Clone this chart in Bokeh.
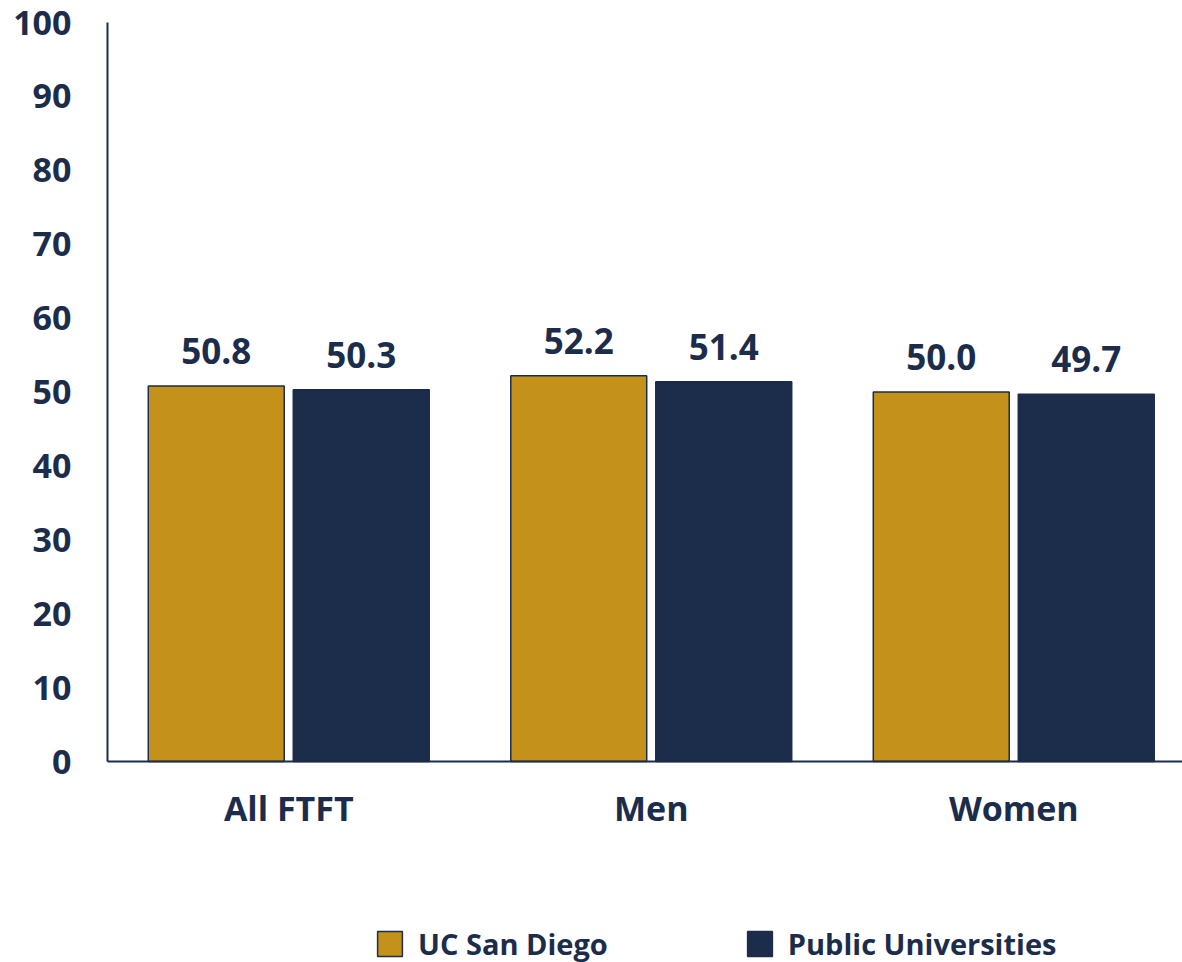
from bokeh.plotting import figure
from bokeh.models import ColumnDataSource, FixedTicker, Legend, LegendItem, Range1d
from bokeh.core.properties import value
from bokeh.transform import dodge
from bokeh.embed import file_html
from bokeh.resources import INLINE

categories = ["All FTFT", "Men", "Women"]
series_names = ["UC San Diego", "Public Universities"]
ucsd = [50.8, 52.2, 50.0]
public = [50.3, 51.4, 49.7]
y_ticks = [0, 10, 20, 30, 40, 50, 60, 70, 80, 90, 100]

GOLD = "#C4921A"
NAVY = "#1B2D4B"
FONT = "Open Sans"

W, H = 1182, 962
AX_X, AX_Y0, AX_Y100 = 107, 761, 22          # pixel positions of axes
PX_X = 362.5                                   # pixels per category
PX_Y = (AX_Y0 - AX_Y100) / 100.0               # pixels per unit

x_start = -AX_X / PX_X
x_end = (W - AX_X) / PX_X
y_start = -(H - AX_Y0) / PX_Y
y_end = 100 + AX_Y100 / PX_Y

xpos = [i + 0.5 for i in range(len(categories))]
src = ColumnDataSource(dict(
    x=xpos, ucsd=ucsd, public=public,
    ucsd_lbl=["%.1f" % v for v in ucsd],
    public_lbl=["%.1f" % v for v in public],
))

p = figure(width=W, height=H, output_backend="svg", toolbar_location=None,
           x_range=Range1d(x_start, x_end), y_range=Range1d(y_start, y_end),
           min_border=0)
p.outline_line_color = None
p.xgrid.grid_line_color = None
p.ygrid.grid_line_color = None

r1 = p.vbar(x=dodge("x", -0.2, range=p.x_range), top="ucsd", width=0.375, source=src,
            fill_color=GOLD, line_color=NAVY, line_width=1.5)
r2 = p.vbar(x=dodge("x", 0.2, range=p.x_range), top="public", width=0.375, source=src,
            fill_color=NAVY, line_color=NAVY, line_width=1.5)

for off, col, lbl in [(-0.2, "ucsd", "ucsd_lbl"), (0.2, "public", "public_lbl")]:
    p.text(x=dodge("x", off, range=p.x_range), y=col, text=lbl, source=src,
           text_font=value(FONT), text_font_style="bold", text_font_size="35px",
           text_color=NAVY, text_align="center", text_baseline="alphabetic",
           y_offset=-35)

# Y axis (fixed at x = 0)
p.yaxis.fixed_location = 0
p.yaxis.bounds = (0, 100)
p.yaxis.ticker = FixedTicker(ticks=y_ticks)
p.yaxis.major_tick_in = 0
p.yaxis.major_tick_out = 0
p.yaxis.minor_tick_line_color = None
p.yaxis.axis_line_color = NAVY
p.yaxis.axis_line_width = 2
p.yaxis.major_label_standoff = 36
p.yaxis.major_label_text_font = FONT
p.yaxis.major_label_text_font_style = "bold"
p.yaxis.major_label_text_font_size = "34px"
p.yaxis.major_label_text_color = NAVY

# X axis (fixed at y = 0)
p.xaxis.fixed_location = 0
p.xaxis.bounds = (0, x_end)
p.xaxis.ticker = FixedTicker(ticks=xpos)
p.xaxis.major_label_overrides = {x: c for x, c in zip(xpos, categories)}
p.xaxis.major_tick_in = 0
p.xaxis.major_tick_out = 0
p.xaxis.minor_tick_line_color = None
p.xaxis.axis_line_color = NAVY
p.xaxis.axis_line_width = 2
p.xaxis.major_label_standoff = 23
p.xaxis.major_label_text_font = FONT
p.xaxis.major_label_text_font_style = "bold"
p.xaxis.major_label_text_font_size = "34px"
p.xaxis.major_label_text_color = NAVY

legend = Legend(items=[LegendItem(label=series_names[0], renderers=[r1]),
                       LegendItem(label=series_names[1], renderers=[r2])],
                orientation="horizontal", location=(374, -1),
                glyph_width=31, glyph_height=31, label_standoff=13, spacing=136,
                padding=0, margin=0, border_line_color=None,
                background_fill_alpha=0,
                label_text_font=FONT, label_text_font_style="bold",
                label_text_font_size="29px", label_text_color=NAVY)
p.add_layout(legend, "center")

open("out.html", "w").write(file_html(p, INLINE))
